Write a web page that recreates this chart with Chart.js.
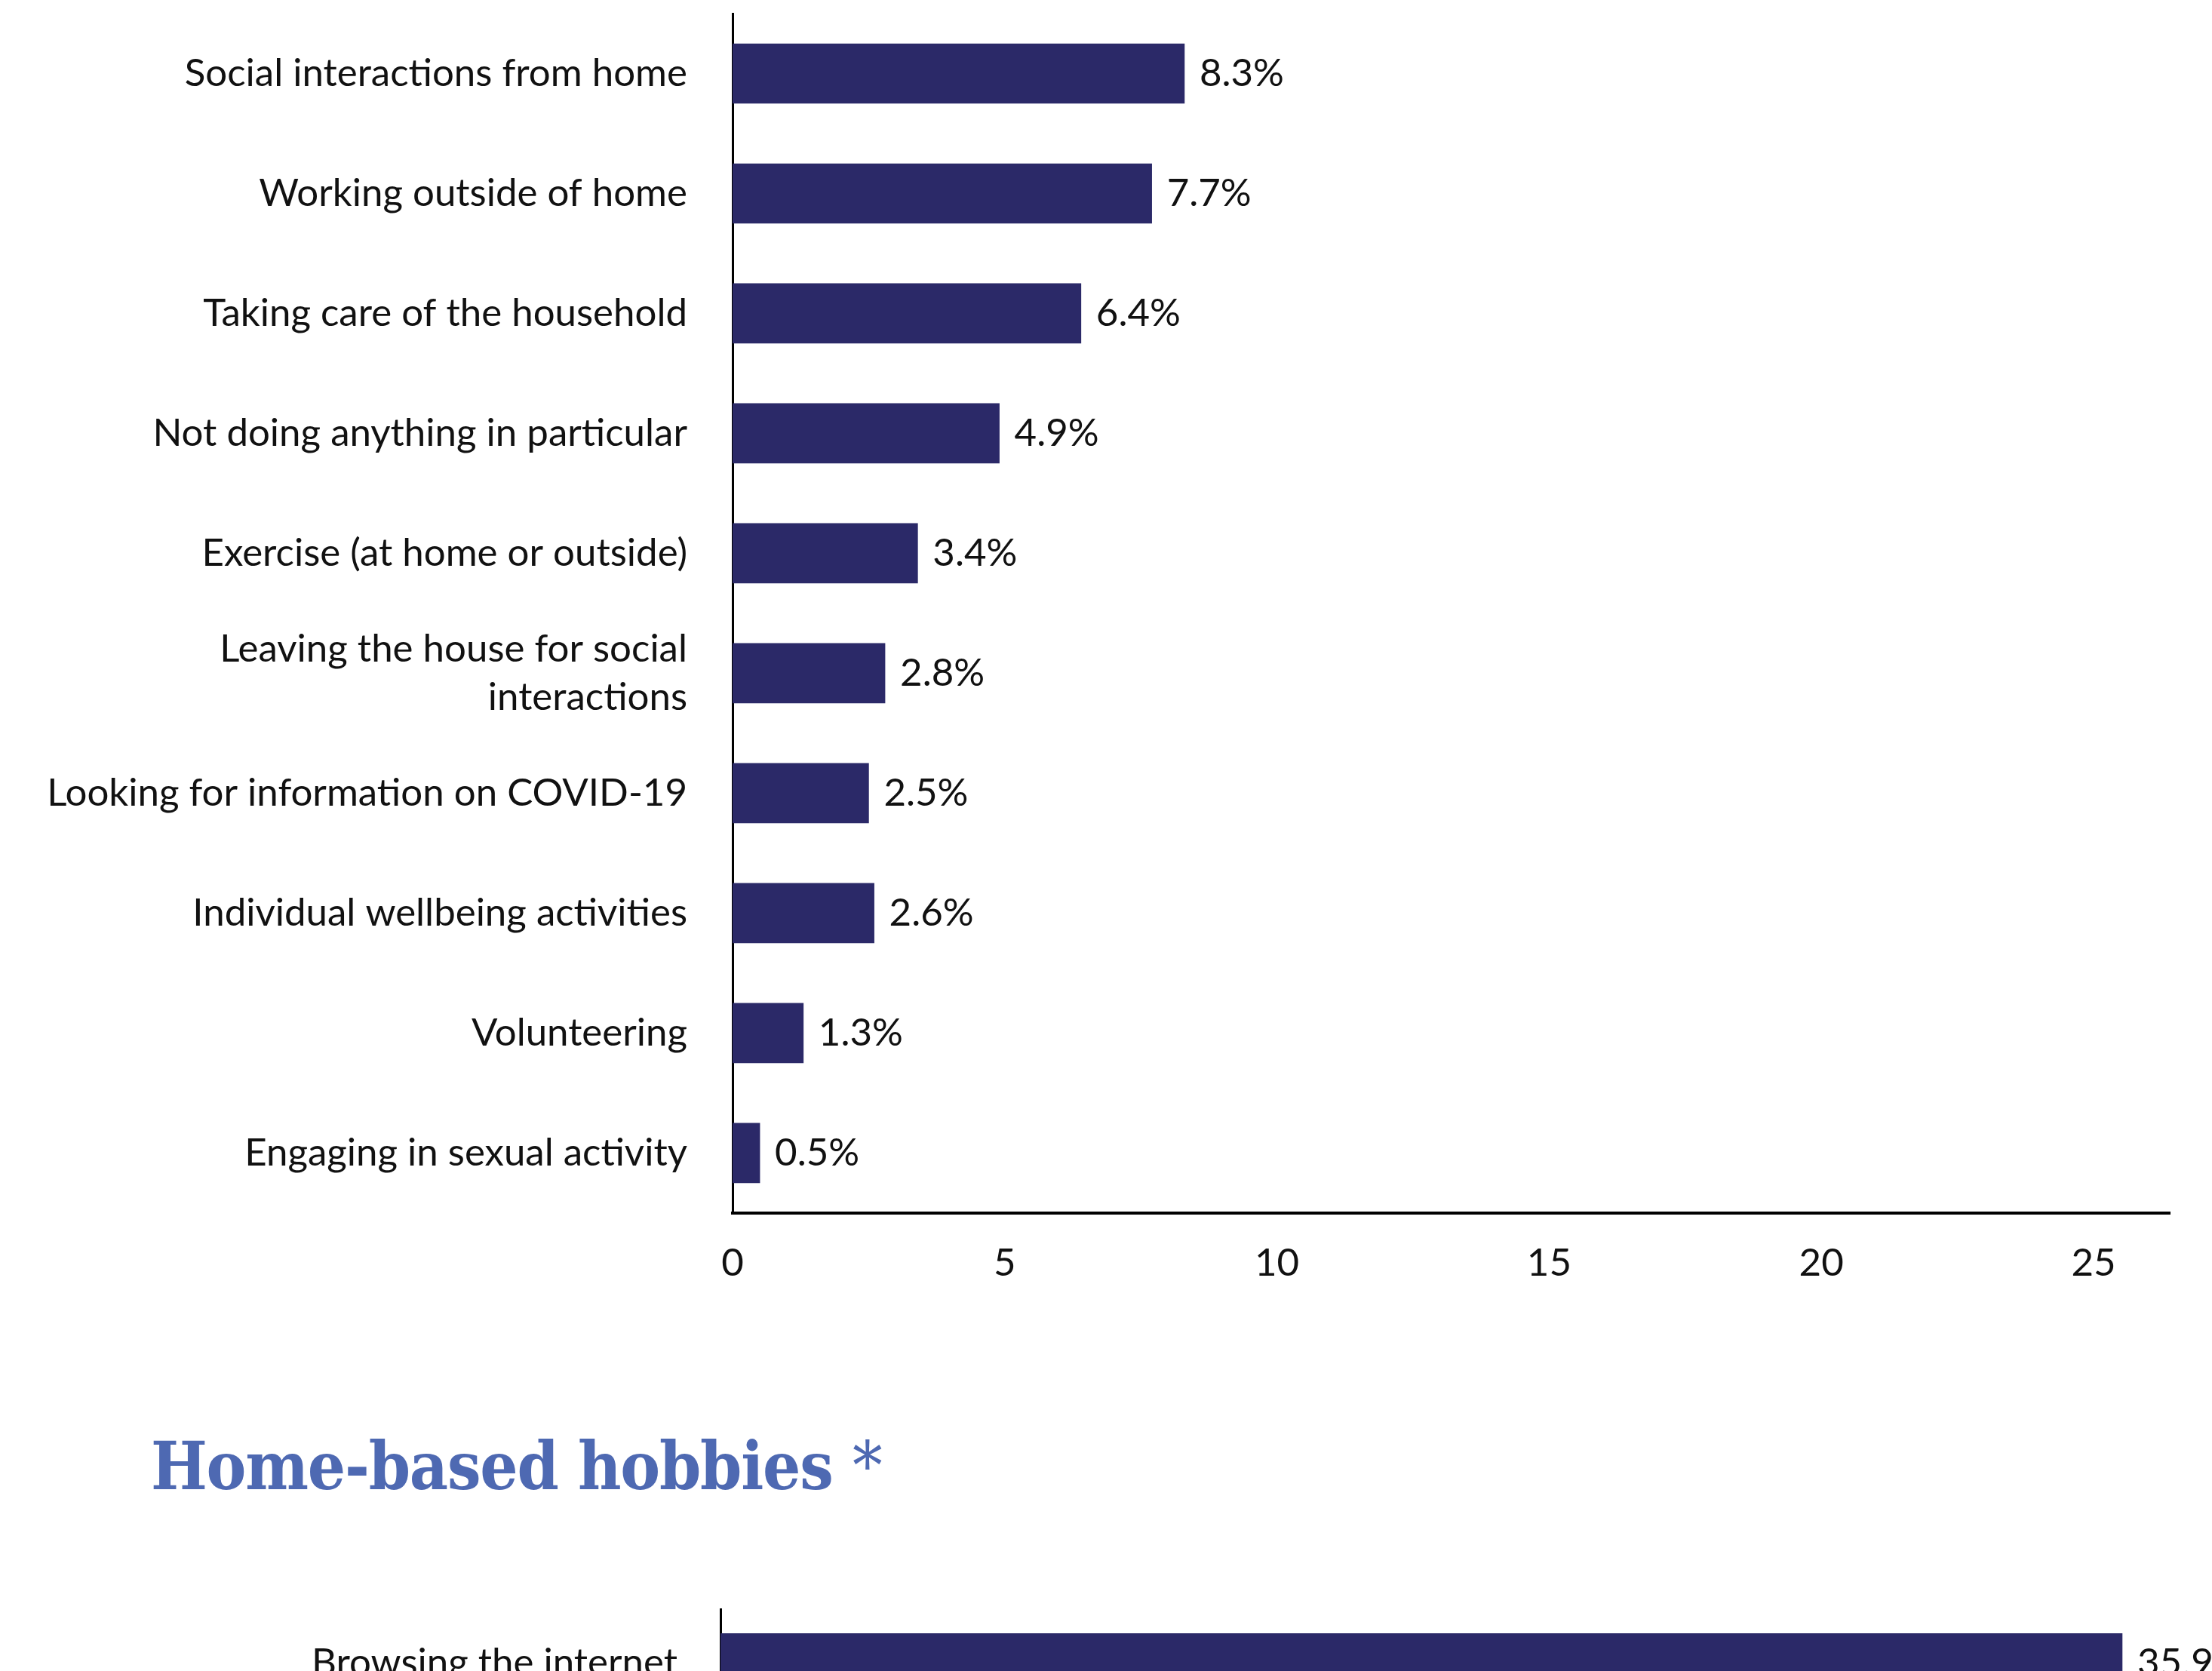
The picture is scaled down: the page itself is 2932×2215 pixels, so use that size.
<!DOCTYPE html>
<html>
<head>
<meta charset="utf-8">
<script src="https://cdn.jsdelivr.net/npm/chart.js@4.4.1/dist/chart.umd.min.js"></script>
<style>
    html, body { margin: 0; padding: 0; background: #fff; }
    body { width: 2932px; height: 2215px; overflow: hidden; position: relative; }
    #activitiesWrap { position: absolute; left: 0; top: 0; width: 2932px; height: 1741px; }
    #hobbiesWrap { position: absolute; left: 0; top: 2132px; width: 2932px; height: 279px; }
    h2 {
        position: absolute; left: 200px; top: 1899px; margin: 0;
        font-family: "DejaVu Serif Condensed", "DejaVu Serif", serif; font-stretch: condensed;
        font-weight: bold; font-size: 88px; letter-spacing: -1.2px;
        color: #4e69b2; line-height: 1; white-space: nowrap;
    }
    h2 span { font-weight: normal; }
</style>
</head>
<body>
<div id="activitiesWrap"><canvas id="activitiesChart"></canvas></div>
<h2>Home-based hobbies <span>*</span></h2>
<div id="hobbiesWrap"><canvas id="hobbiesChart"></canvas></div>

<script>
// Data
const activityLabels = [
    'Social interactions from home',
    'Working outside of home',
    'Taking care of the household',
    'Not doing anything in particular',
    'Exercise (at home or outside)',
    ['Leaving the house for social', 'interactions'],
    'Looking for information on COVID-19',
    'Individual wellbeing activities',
    'Volunteering',
    'Engaging in sexual activity'
];
const activityValues = [8.3, 7.7, 6.4, 4.9, 3.4, 2.8, 2.5, 2.6, 1.3, 0.5];
const activityTicks = [0, 5, 10, 15, 20, 25];

const hobbyLabels = ['Browsing the internet'];
const hobbyValues = [35.9];
const hobbyTicks = [0, 5, 10, 15, 20, 25, 30, 35];

const barColor = '#2b2968';
const textColor = '#111111';
const fontFamily = 'Lato, "Open Sans", sans-serif';
const fontSize = 51;

// Draws "x.x%" at the end of each bar
const valueLabels = {
    id: 'valueLabels',
    afterDatasetsDraw(chart) {
        const ctx = chart.ctx;
        const meta = chart.getDatasetMeta(0);
        ctx.save();
        ctx.font = fontSize + 'px ' + fontFamily;
        ctx.fillStyle = textColor;
        ctx.textAlign = 'left';
        ctx.textBaseline = 'middle';
        meta.data.forEach((bar, i) => {
            const v = chart.data.datasets[0].data[i];
            ctx.fillText(v.toFixed(1) + '%', bar.x + 20, bar.y);
        });
        ctx.restore();
    }
};

function makeBarChart(canvasId, labels, values, opts) {
    const ctx = document.getElementById(canvasId).getContext('2d');
    return new Chart(ctx, {
        type: 'bar',
        data: {
            labels: labels,
            datasets: [{
                data: values,
                backgroundColor: barColor,
                barThickness: 79
            }]
        },
        options: {
            indexAxis: 'y',
            responsive: true,
            maintainAspectRatio: false,
            animation: false,
            layout: { padding: { top: opts.padTop, right: opts.padRight, left: 0, bottom: 0 } },
            plugins: {
                legend: { display: false },
                tooltip: { enabled: false }
            },
            scales: {
                x: {
                    min: 0,
                    max: opts.xMax,
                    afterBuildTicks: scale => {
                        scale.ticks = opts.ticks.map(v => ({ value: v }));
                    },
                    grid: { display: false, drawTicks: false },
                    border: { display: true, color: '#000', width: 4 },
                    ticks: {
                        color: textColor,
                        padding: 36,
                        font: { family: fontFamily, size: fontSize }
                    }
                },
                y: {
                    // fixed axis position, and no extra room for half labels
                    afterFit: scale => {
                        scale.width = opts.axisX;
                        scale.paddingTop = 0;
                        scale.paddingBottom = 0;
                    },
                    grid: { display: false, drawTicks: false },
                    border: { display: true, color: '#000', width: 3 },
                    ticks: {
                        color: textColor,
                        padding: opts.labelGap,
                        font: { family: fontFamily, size: fontSize, lineHeight: 1.26 }
                    }
                }
            }
        },
        plugins: [valueLabels]
    });
}

document.addEventListener('DOMContentLoaded', () => {
    makeBarChart('activitiesChart', activityLabels, activityValues, {
        padTop: 18, padRight: 56, xMax: 26.4, ticks: activityTicks, axisX: 971, labelGap: 60
    });
    makeBarChart('hobbiesChart', hobbyLabels, hobbyValues, {
        padTop: 0, padRight: 0, xMax: 38.2, ticks: hobbyTicks, axisX: 955, labelGap: 57
    });
});
</script>
</body>
</html>
